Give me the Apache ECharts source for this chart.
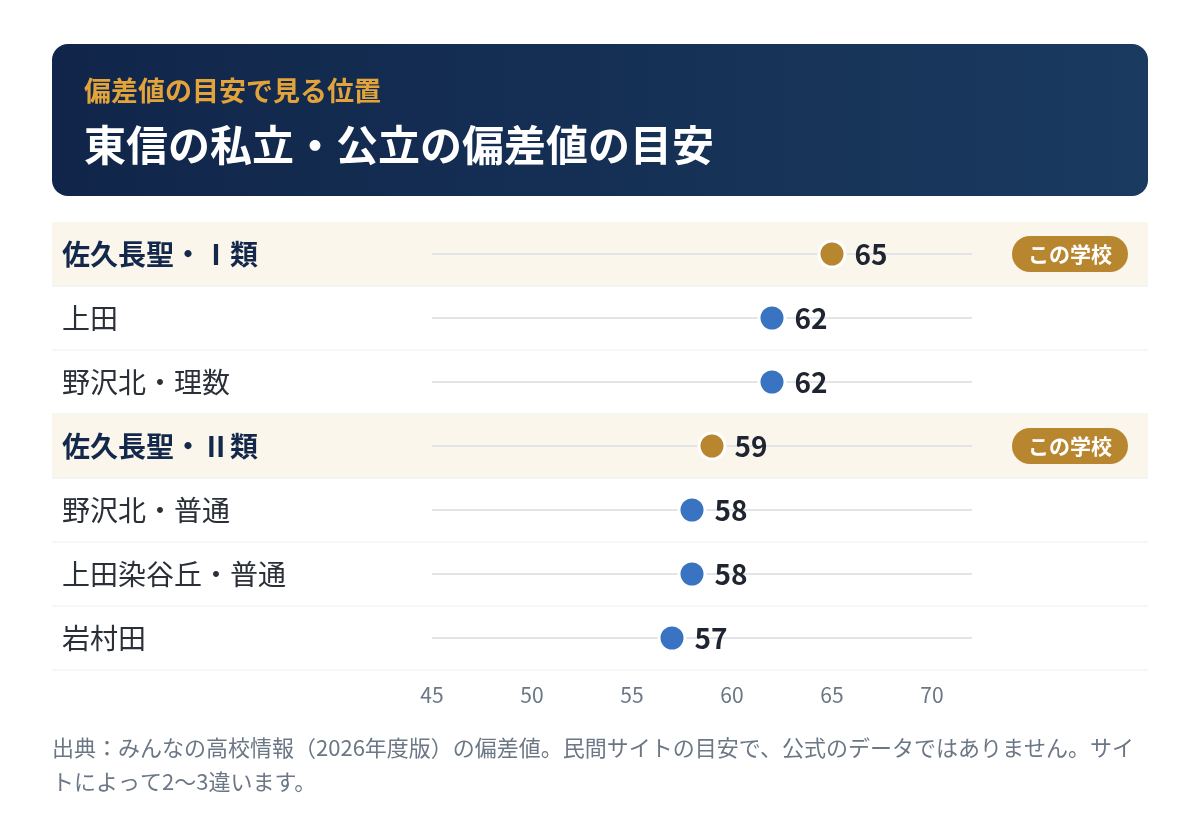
<!DOCTYPE html>
<html lang="ja">
<head>
<meta charset="utf-8">
<title>東信の私立・公立の偏差値の目安</title>
<script src="https://cdn.jsdelivr.net/npm/echarts@6/dist/echarts.min.js"></script>
<style>
  html, body { margin: 0; padding: 0; background: #fff; }
  #main { width: 1200px; height: 836px; }
</style>
</head>
<body>
<div id="main"></div>
<script>
// データ
var schools = ['佐久長聖・Ⅰ類', '上田', '野沢北・理数', '佐久長聖・Ⅱ類', '野沢北・普通', '上田染谷丘・普通', '岩村田'];
var scores = [65, 62, 62, 59, 58, 58, 57];
var thisSchool = [true, false, false, true, false, false, false];
var axisMin = 45;
var axisMax = 72;

var FONT = '"Noto Sans CJK JP", "Noto Sans", sans-serif';
var GOLD = '#b8862e';
var BLUE = '#3b73c3';

var chart = echarts.init(document.getElementById('main'));

// 行の背景・区切り線・トラック・バッジ
var rowData = schools.map(function (s, i) { return [axisMin, i, thisSchool[i] ? 1 : 0]; });
function renderRow(params, api) {
  var idx = api.value(1);
  var c = api.coord([axisMin, idx]);
  var end = api.coord([axisMax, idx]);
  var h = api.size([0, 1])[1];
  var cy = c[1];
  var hi = api.value(2) === 1;
  var children = [];
  if (hi) {
    children.push({ type: 'rect', shape: { x: 52, y: cy - h / 2, width: 1096, height: h }, style: { fill: '#fbf6ec' } });
  }
  children.push({ type: 'line', shape: { x1: 52, y1: cy + h / 2, x2: 1148, y2: cy + h / 2 }, style: { stroke: '#eceef0', lineWidth: 1 } });
  children.push({ type: 'line', shape: { x1: c[0], y1: cy, x2: end[0], y2: cy }, style: { stroke: '#e2e4e8', lineWidth: 2 } });
  if (hi) {
    children.push({ type: 'rect', shape: { x: 1012, y: cy - 18, width: 116, height: 36, r: 18 }, style: { fill: GOLD } });
    children.push({ type: 'text', style: { x: 1070, y: cy, text: 'この学校', fill: '#fff', font: 'bold 21px ' + FONT, align: 'center', verticalAlign: 'middle' } });
  }
  return { type: 'group', children: children };
}

var option = {
  backgroundColor: '#fff',
  textStyle: { fontFamily: FONT },
  graphic: [
    {
      type: 'rect', left: 52, top: 44, z: 0,
      shape: { width: 1096, height: 152, r: 16 },
      style: {
        fill: new echarts.graphic.LinearGradient(0, 0, 1, 0, [
          { offset: 0, color: '#11254a' },
          { offset: 1, color: '#1a3a5f' }
        ])
      }
    },
    {
      type: 'text', x: 84, y: 91, z: 1,
      style: { text: '偏差値の目安で見る位置', fill: '#e2a43a', font: 'bold 27px ' + FONT, verticalAlign: 'middle' }
    },
    {
      type: 'text', x: 84, y: 145, z: 1,
      style: { text: '東信の私立・公立の偏差値の目安', fill: '#ffffff', font: 'bold 42px ' + FONT, verticalAlign: 'middle' }
    },
    {
      type: 'text', x: 52, y: 731, z: 1,
      style: {
        text: '出典：みんなの高校情報（2026年度版）の偏差値。民間サイトの目安で、公式のデータではありません。サイ\nトによって2〜3違います。',
        fill: '#6b7785', font: '22px ' + FONT, lineHeight: 34
      }
    }
  ],
  grid: { left: 432, right: 228, top: 222, height: 448 },
  xAxis: {
    type: 'value',
    min: axisMin,
    max: axisMax,
    interval: 5,
    axisLine: { show: false },
    axisTick: { show: false },
    splitLine: { show: false },
    axisLabel: {
      color: '#6b7785', fontSize: 21, margin: 15, fontFamily: FONT,
      formatter: function (v) { return v % 5 === 0 ? String(v) : ''; }
    }
  },
  yAxis: {
    type: 'category',
    inverse: true,
    z: 5,
    data: schools,
    axisLine: { show: false },
    axisTick: { show: false },
    splitLine: { show: false },
    axisLabel: {
      margin: 370,
      align: 'left',
      fontSize: 28,
      color: '#2a2f38',
      fontFamily: FONT,
      formatter: function (v, i) { return thisSchool[i] ? '{b|' + v + '}' : v; },
      rich: { b: { fontSize: 28, fontWeight: 'bold', color: '#14284b', fontFamily: FONT } }
    }
  },
  series: [
    {
      type: 'custom',
      clip: false,
      silent: true,
      z: 1,
      renderItem: renderRow,
      data: rowData
    },
    {
      type: 'scatter',
      z: 5,
      symbolSize: 26,
      data: scores.map(function (v, i) {
        return {
          value: [v, i],
          itemStyle: { color: thisSchool[i] ? GOLD : BLUE, borderColor: '#fff', borderWidth: 3, opacity: 1 }
        };
      }),
      label: {
        show: true,
        position: 'right',
        distance: 8,
        fontSize: 28,
        fontWeight: 'bold',
        color: '#1e2430',
        fontFamily: FONT,
        formatter: function (p) { return p.value[0]; }
      }
    }
  ]
};

chart.setOption(option);
</script>
</body>
</html>
